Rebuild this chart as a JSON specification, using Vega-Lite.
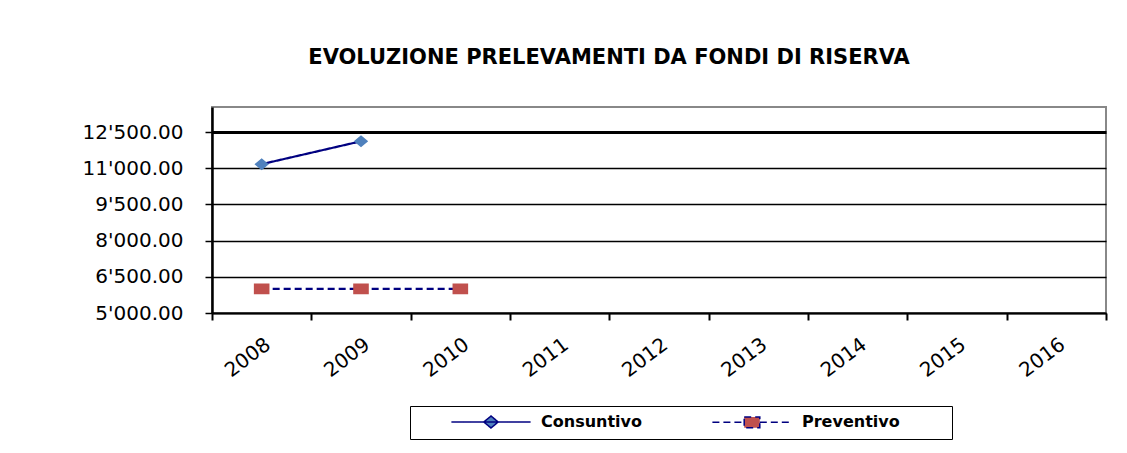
{
  "$schema": "https://vega.github.io/schema/vega-lite/v6.json",
  "width": 894,
  "height": 206,
  "autosize": {"type": "none"},
  "padding": {"left": 212, "top": 107, "right": 21, "bottom": 140},
  "background": "white",
  "title": {
    "text": "EVOLUZIONE PRELEVAMENTI DA FONDI DI RISERVA",
    "font": "DejaVu Sans",
    "fontWeight": "bold",
    "fontSize": 21,
    "color": "black",
    "anchor": "middle",
    "dx": -50,
    "offset": 39
  },
  "data": {
    "values": [
      {"year": "2008", "series": "Consuntivo", "value": 11170},
      {"year": "2009", "series": "Consuntivo", "value": 12120},
      {"year": "2008", "series": "Preventivo", "value": 6000},
      {"year": "2009", "series": "Preventivo", "value": 6000},
      {"year": "2010", "series": "Preventivo", "value": 6000}
    ]
  },
  "config": {
    "view": {"stroke": "#888888", "strokeWidth": 2},
    "axis": {
      "labelFont": "DejaVu Sans",
      "labelFontSize": 20,
      "labelColor": "black",
      "domainColor": "black",
      "tickColor": "black"
    },
    "legend": {
      "direction": "horizontal",
      "strokeColor": "black",
      "padding": 8,
      "labelFont": "DejaVu Sans",
      "labelFontWeight": "bold",
      "labelFontSize": 16,
      "labelColor": "black",
      "labelOffset": 42,
      "symbolOffset": 65,
      "columnPadding": 37,
      "symbolSize": 144,
      "symbolStrokeColor": "#000080",
      "symbolStrokeWidth": 1.5,
      "symbolOpacity": 1
    }
  },
  "encoding": {
    "x": {
      "field": "year",
      "type": "nominal",
      "scale": {"domain": ["2008","2009","2010","2011","2012","2013","2014","2015","2016"], "paddingInner": 0, "paddingOuter": 0},
      "axis": {
        "title": null,
        "tickBand": "extent",
        "labelAngle": -37,
        "labelAlign": "right",
        "labelBaseline": "top",
        "labelPadding": 14,
        "tickSize": 7,
        "tickWidth": 2,
        "domainWidth": 2,
        "grid": false
      }
    },
    "y": {
      "field": "value",
      "type": "quantitative",
      "scale": {"domain": [5000, 13540], "nice": false, "zero": false},
      "axis": {
        "title": null,
        "values": [5000, 6500, 8000, 9500, 11000, 12500],
        "labelExpr": "replace(format(datum.value, ',.2f'), ',', \"'\")",
        "tickSize": 7,
        "tickWidth": 1.5,
        "labelPadding": 22,
        "domainWidth": 2.5,
        "grid": true,
        "gridColor": "black",
        "gridOpacity": 1,
        "gridWidth": {"condition": {"test": "datum.value == 12500", "value": 3}, "value": 1.5}
      }
    }
  },
  "layer": [
    {
      "mark": {"type": "line", "color": "#000080", "strokeWidth": 2.2},
      "encoding": {
        "strokeDash": {
          "field": "series",
          "type": "nominal",
          "title": null,
          "scale": {"domain": ["Consuntivo", "Preventivo"], "range": [[1, 0], [7, 4]]},
          "legend": {"orient": "none", "legendX": 198, "legendY": 299, "title": null, "encode": {"symbols": {"update": {"stroke": {"value": "#000080"}, "strokeWidth": {"value": 1.5}}}}}
        }
      }
    },
    {
      "mark": {"type": "point", "filled": true, "opacity": 1, "size": 144, "strokeWidth": 0},
      "encoding": {
        "color": {
          "field": "series",
          "type": "nominal",
          "title": null,
          "scale": {"domain": ["Consuntivo", "Preventivo"], "range": ["#4F81BD", "#C0504D"]},
          "legend": {"orient": "none", "legendX": 198, "legendY": 299, "title": null, "encode": {"symbols": {"update": {"stroke": {"value": "#000080"}, "strokeWidth": {"value": 1.5}}}}}
        },
        "shape": {
          "field": "series",
          "type": "nominal",
          "title": null,
          "scale": {"domain": ["Consuntivo", "Preventivo"], "range": ["M-6.6,0H6.6M0,-1L1.2,0L0,1L-1.2,0Z", "M-6.6,0H-1.3M1.3,0H6.6M-1.3,-0.9H1.3V0.9H-1.3ZM31.5,0"]},
          "legend": {"orient": "none", "legendX": 198, "legendY": 299, "title": null, "encode": {"symbols": {"update": {"stroke": {"value": "#000080"}, "strokeWidth": {"value": 1.5}}}}}
        }
      }
    }
  ]
}
